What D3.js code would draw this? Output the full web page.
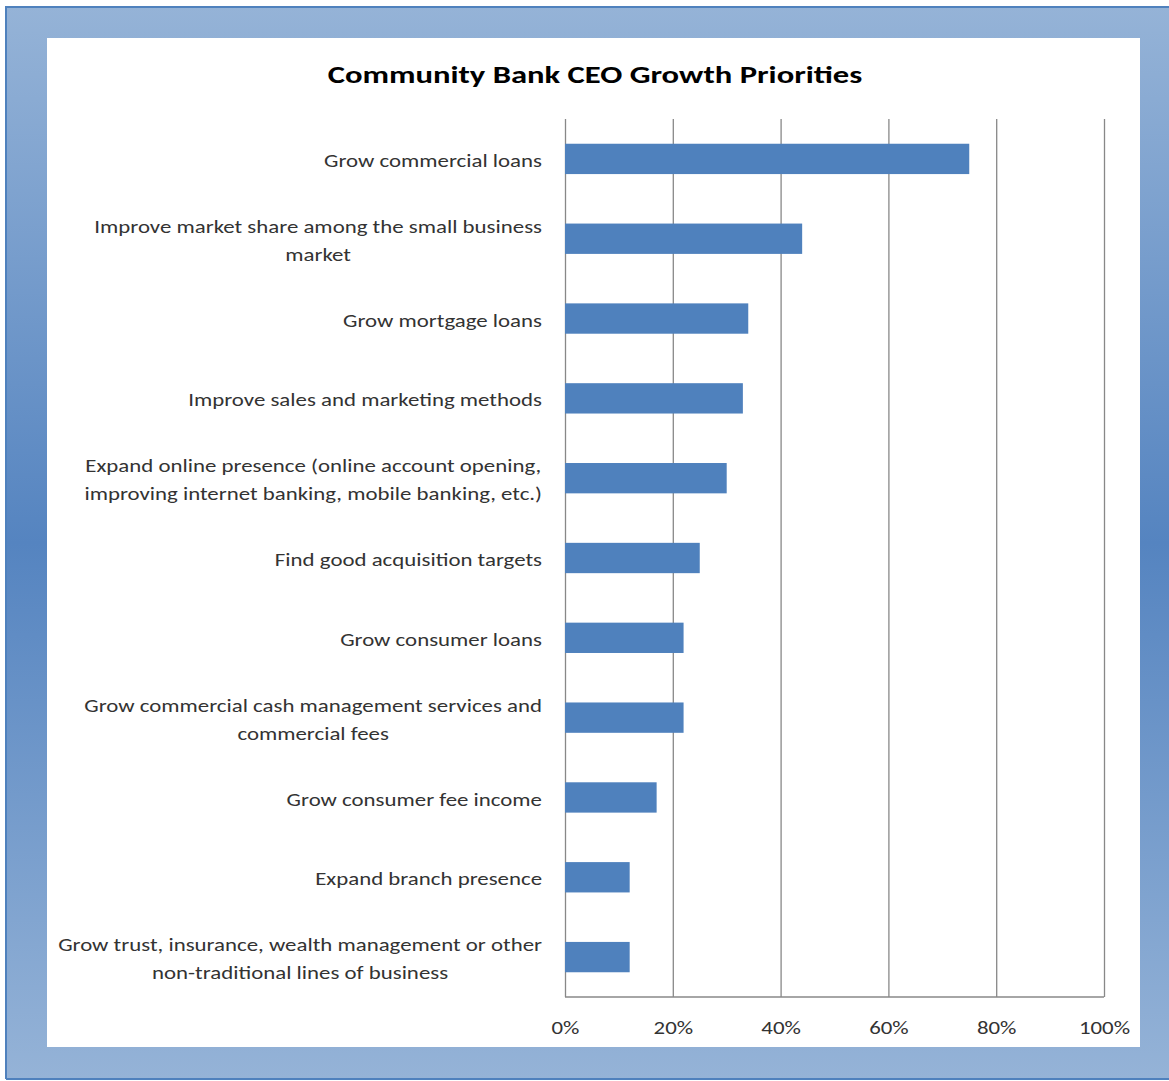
<!DOCTYPE html>
<html>
<head>
<meta charset="utf-8">
<script src="https://cdn.jsdelivr.net/npm/d3@7"></script>
<style>
  html, body { margin: 0; padding: 0; background: #ffffff; }
  svg { display: block; }
  text { font-family: Carlito, Lato, "Open Sans", sans-serif; }
</style>
</head>
<body>
<svg id="chart" width="1169" height="1081"></svg>
<script>
// Survey answers: share of community bank CEOs naming each growth priority
const categories = [
  "Grow commercial loans",
  "Improve market share among the small business\nmarket",
  "Grow mortgage loans",
  "Improve sales and marketing methods",
  "Expand online presence (online account opening,\nimproving internet banking, mobile banking, etc.)",
  "Find good acquisition targets",
  "Grow consumer loans",
  "Grow commercial cash management services and\ncommercial fees",
  "Grow consumer fee income",
  "Expand branch presence",
  "Grow trust, insurance, wealth management or other\nnon-traditional lines of business"
];
const shares = [0.75, 0.44, 0.34, 0.33, 0.30, 0.25, 0.22, 0.22, 0.17, 0.12, 0.12];
const tickValues = [0, 0.2, 0.4, 0.6, 0.8, 1.0];
const titleText = "Community Bank CEO Growth Priorities";

const W = 1169, H = 1081;
const textStretch = 1.27;   // wide letterforms used for the chart text
const titleStretch = 1.36;

const svg = d3.select("#chart");
const defs = svg.append("defs");

// Frame gradient: pale at top and bottom, deeper blue through the middle
const grad = defs.append("linearGradient")
  .attr("id", "frameGrad").attr("x1", 0).attr("y1", 0).attr("x2", 0).attr("y2", 1);
grad.append("stop").attr("offset", "0%").attr("stop-color", "#95b3d7");
grad.append("stop").attr("offset", "50%").attr("stop-color", "#5584c0");
grad.append("stop").attr("offset", "100%").attr("stop-color", "#95b3d7");

svg.append("rect").attr("x", 0).attr("y", 0).attr("width", W).attr("height", H).attr("fill", "#ffffff");
svg.append("rect").attr("x", 6).attr("y", 7).attr("width", W - 6).attr("height", H - 9)
  .attr("fill", "url(#frameGrad)");
// Thin darker edge along the top, left and bottom of the frame
svg.append("line").attr("x1", 6).attr("x2", W).attr("y1", 7).attr("y2", 7)
  .attr("stroke", "#4f81bd").attr("stroke-width", 2);
svg.append("line").attr("x1", 6).attr("x2", 6).attr("y1", 6).attr("y2", H - 2)
  .attr("stroke", "#4f81bd").attr("stroke-width", 2);
svg.append("line").attr("x1", 6).attr("x2", W).attr("y1", H - 2).attr("y2", H - 2)
  .attr("stroke", "#4f81bd").attr("stroke-width", 2);

// White chart panel
svg.append("rect").attr("x", 47).attr("y", 38).attr("width", 1093).attr("height", 1009)
  .attr("fill", "#ffffff");

// Plot area
const plot = { left: 565, right: 1104, top: 119, bottom: 997 };

const x = d3.scaleLinear().domain([0, 1]).range([plot.left, plot.right]);
const y = d3.scaleBand().domain(categories).range([plot.top, plot.bottom]).paddingInner(0.62).paddingOuter(0.31);

// Title
svg.append("text")
  .attr("transform", `translate(595,83) scale(${titleStretch},1)`)
  .attr("text-anchor", "middle")
  .attr("font-size", 24).attr("font-weight", "bold").attr("fill", "#000000")
  .text(titleText);

// Vertical gridlines
const gridG = svg.append("g")
  .attr("transform", `translate(0,${plot.bottom})`)
  .call(d3.axisBottom(x).tickValues(tickValues).tickSize(-(plot.bottom - plot.top)).tickFormat(""));
gridG.select(".domain").remove();
gridG.selectAll(".tick line").attr("stroke", "#888888").attr("stroke-width", 1.3);

// Bottom edge of the plot area
svg.append("line")
  .attr("x1", plot.left).attr("x2", plot.right)
  .attr("y1", plot.bottom).attr("y2", plot.bottom)
  .attr("stroke", "#888888").attr("stroke-width", 1.3);

// Bars
svg.append("g").selectAll("rect")
  .data(categories.map((c, i) => ({ c, v: shares[i] })))
  .join("rect")
  .attr("x", x(0))
  .attr("y", d => y(d.c))
  .attr("width", d => x(d.v) - x(0))
  .attr("height", y.bandwidth())
  .attr("fill", "#4f81bd");

// Percentage tick labels
const tickG = svg.append("g")
  .attr("transform", `translate(0,${plot.bottom})`)
  .call(d3.axisBottom(x).tickValues(tickValues).tickSize(0).tickPadding(0).tickFormat(d3.format(".0%")));
tickG.select(".domain").remove();
tickG.selectAll(".tick text")
  .attr("font-family", "Carlito, Lato, sans-serif")
  .attr("font-size", 18).attr("fill", "#333333")
  .attr("y", 37).attr("dy", 0)
  .attr("transform", `scale(${textStretch},1)`);

// Category labels: lines centred as a block, the block right-aligned to the axis
const labelRight = 542;
const lineGap = 28;
const labelG = svg.append("g");
categories.forEach(c => {
  const lines = c.split("\n");
  const cy = y(c) + y.bandwidth() / 2 + 2;
  const g = labelG.append("g")
    .attr("transform", `translate(${labelRight},${cy}) scale(${textStretch},1)`);
  const texts = lines.map((ln, k) => g.append("text")
    .attr("y", (k - (lines.length - 1) / 2) * lineGap)
    .attr("dominant-baseline", "central")
    .attr("text-anchor", "middle")
    .attr("font-size", 18).attr("fill", "#333333")
    .text(ln));
  const maxW = d3.max(texts, t => t.node().getComputedTextLength());
  texts.forEach(t => t.attr("x", -maxW / 2));
});
</script>
</body>
</html>
